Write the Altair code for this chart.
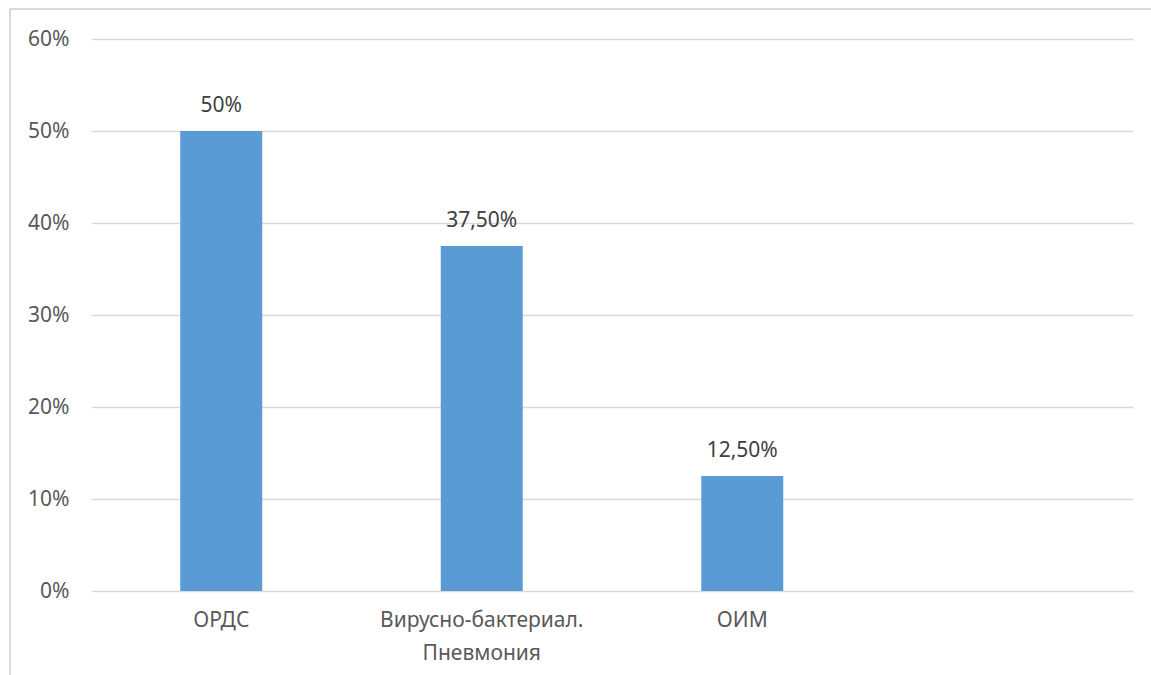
import altair as alt
import pandas as pd

# Bar chart data (shares of cases)
categories = ["ОРДС", "Вирусно-бактериал.|Пневмония", "ОИМ"]
values = [0.50, 0.375, 0.125]
value_labels = ["50%", "37,50%", "12,50%"]
x_domain = categories + [" "]

df = pd.DataFrame({"cat": categories, "val": values, "lbl": value_labels})

W, H = 1042, 552
FONT = "Noto Sans"
FS = 21

x_enc = alt.X(
    "cat:N",
    scale=alt.Scale(domain=x_domain, paddingInner=0, paddingOuter=0),
    sort=x_domain,
    axis=alt.Axis(
        title=None, labelAngle=0, ticks=False, domain=False, grid=False,
        labelExpr="split(datum.label, '|')", labelLineHeight=33, labelLimit=400,
        labelPadding=18, labelFontSize=FS, labelColor="#595959", labelFont=FONT,
    ),
)
y_enc = alt.Y(
    "val:Q",
    scale=alt.Scale(domain=[0, 0.6], nice=False),
    axis=alt.Axis(
        title=None, format=".0%", values=[0, 0.1, 0.2, 0.3, 0.4, 0.5, 0.6],
        ticks=False, domain=False, grid=True, gridColor="#d9d9d9", gridWidth=1.5,
        labelPadding=22, labelFontSize=FS, labelColor="#595959", labelFont=FONT,
    ),
)

bars = alt.Chart(df).mark_bar(size=82, color="#5b9bd5").encode(x=x_enc, y=y_enc)

texts = alt.Chart(df).mark_text(
    dy=-25, fontSize=FS, color="#404040", font=FONT
).encode(x=alt.X("cat:N", sort=x_domain), y="val:Q", text="lbl:N")

# Outer chart frame (left and top edges)
frame_left = alt.Chart(df).mark_rule(color="#d9d9d9", strokeWidth=1.5).encode(
    x=alt.value(-81), y=alt.value(-30), y2=alt.value(H + 100)
)
frame_top = alt.Chart(df).mark_rule(color="#d9d9d9", strokeWidth=1.5).encode(
    x=alt.value(-81), x2=alt.value(W + 100), y=alt.value(-30)
)

chart = (
    alt.layer(frame_left, frame_top, bars, texts)
    .properties(
        width=W, height=H,
        autosize=alt.AutoSizeParams(type="none"),
        padding={"left": 91, "top": 39, "right": 18, "bottom": 84},
        background="white",
    )
    .configure_view(stroke=None)
)

chart.save("out.html", embed_options={"renderer": "svg", "actions": False})
